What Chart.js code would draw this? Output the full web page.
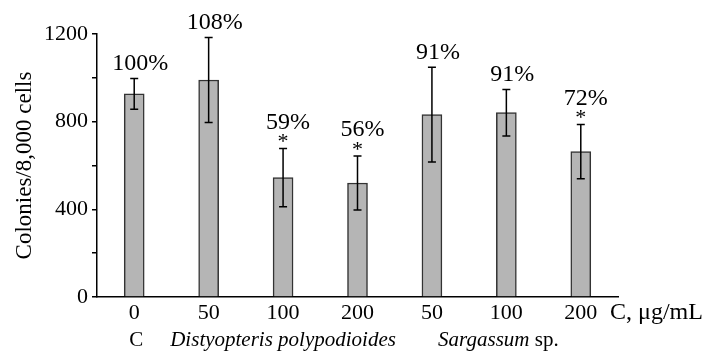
<!DOCTYPE html>
<html>
<head>
<meta charset="utf-8">
<script src="https://cdn.jsdelivr.net/npm/chart.js@4/dist/chart.umd.min.js"></script>
<style>
  body { margin: 0; background: #fff; }
  #wrap { width: 705px; height: 353px; }
</style>
</head>
<body>
<div id="wrap"><canvas id="myChart"></canvas></div>
<script>
// data
const doses = ['0', '50', '100', '200', '50', '100', '200'];
const colonies = [927, 990, 545, 520, 832, 841, 663];
const errors = [70, 194, 133, 123, 216, 106, 124];
const percents = ['100%', '108%', '59%', '56%', '91%', '91%', '72%'];
const starred = [false, false, true, true, false, false, true];
const groups = ['C', 'Distyopteris polypodioides', 'Sargassum'];
const groupFirst = [0, 1, 4];
const groupLast = [0, 3, 6];
const yTicks = [0, 400, 800, 1200];

const serif = "'Liberation Serif', 'Times New Roman', serif";

// error bars, percent labels and the lower label row
const extras = {
    id: 'extras',
    afterDatasetsDraw(chart) {
        const ctx = chart.ctx;
        const y = chart.scales.y;
        const meta = chart.getDatasetMeta(0);
        ctx.save();
        ctx.strokeStyle = '#000';
        ctx.lineWidth = 1.5;
        meta.data.forEach((bar, i) => {
            const top = y.getPixelForValue(colonies[i] + errors[i]);
            const bot = y.getPixelForValue(colonies[i] - errors[i]);
            ctx.beginPath();
            ctx.moveTo(bar.x, top); ctx.lineTo(bar.x, bot);
            ctx.moveTo(bar.x - 4, top); ctx.lineTo(bar.x + 4, top);
            ctx.moveTo(bar.x - 4, bot); ctx.lineTo(bar.x + 4, bot);
            ctx.stroke();

            ctx.fillStyle = '#000';
            ctx.textAlign = 'center';
            ctx.textBaseline = 'middle';
            if (starred[i]) {
                ctx.font = '22px ' + serif;
                ctx.fillText('*', bar.x, top - 6);
                ctx.font = '24px ' + serif;
                ctx.fillText(percents[i], bar.x + 5, top - 26);
            } else {
                ctx.font = '24px ' + serif;
                ctx.fillText(percents[i], bar.x + 6, top - 15);
            }
        });

        // unit label after the last tick
        const area = chart.chartArea;
        ctx.font = '24px ' + serif;
        ctx.textAlign = 'left';
        ctx.fillText('C, \u03bcg/mL', area.right - 8, area.bottom + 16);

        // group names under the doses
        const rowY = area.bottom + 43;
        groups.forEach((g, k) => {
            const x0 = meta.data[groupFirst[k]].x;
            const x1 = meta.data[groupLast[k]].x;
            let cx = (x0 + x1) / 2;
            ctx.textAlign = 'center';
            if (k === 0) {
                ctx.font = '21px ' + serif;
                ctx.fillText(g, cx + 2, rowY);
            } else if (k === 1) {
                ctx.font = 'italic 21px ' + serif;
                ctx.fillText(g, cx, rowY);
            } else {
                ctx.font = 'italic 21px ' + serif;
                const w1 = ctx.measureText(g + ' ').width;
                ctx.font = '21px ' + serif;
                const w2 = ctx.measureText('sp.').width;
                let left = cx - 8 - (w1 + w2) / 2;
                ctx.textAlign = 'left';
                ctx.font = 'italic 21px ' + serif;
                ctx.fillText(g, left, rowY);
                ctx.font = '21px ' + serif;
                ctx.fillText('sp.', left + w1, rowY);
            }
        });
        ctx.restore();
    }
};

const config = {
    type: 'bar',
    data: {
        labels: doses,
        datasets: [{
            data: colonies,
            backgroundColor: '#b5b5b5',
            borderColor: '#333',
            borderWidth: 1.5,
            barThickness: 20
        }]
    },
    options: {
        responsive: true,
        maintainAspectRatio: false,
        animation: false,
        layout: { padding: { left: 0, right: 87, top: 34, bottom: 0 } },
        plugins: {
            legend: { display: false },
            tooltip: { enabled: false }
        },
        scales: {
            x: {
                grid: { display: false, drawTicks: false },
                border: { display: true, color: '#000', width: 1.5 },
                ticks: { color: '#000', font: { family: serif, size: 22 }, padding: 3, maxRotation: 0 },
                afterFit(scale) { scale.height = 56; }
            },
            y: {
                min: 0,
                max: 1200,
                grid: { drawOnChartArea: false, drawTicks: true, tickLength: 5, color: '#000', lineWidth: 1.5 },
                border: { display: true, color: '#000', width: 1.5 },
                ticks: {
                    stepSize: 200,
                    padding: 4,
                    color: '#000',
                    font: { family: serif, size: 22 },
                    callback: v => yTicks.includes(v) ? v : ''
                },
                title: {
                    display: true,
                    text: 'Colonies/8,000 cells',
                    color: '#000',
                    font: { family: serif, size: 23 },
                    padding: { top: 11, bottom: 0 }
                },
                afterFit(scale) { scale.width = 97; }
            }
        }
    },
    plugins: [extras]
};

var myChart = new Chart(document.getElementById('myChart'), config);
</script>
</body>
</html>
